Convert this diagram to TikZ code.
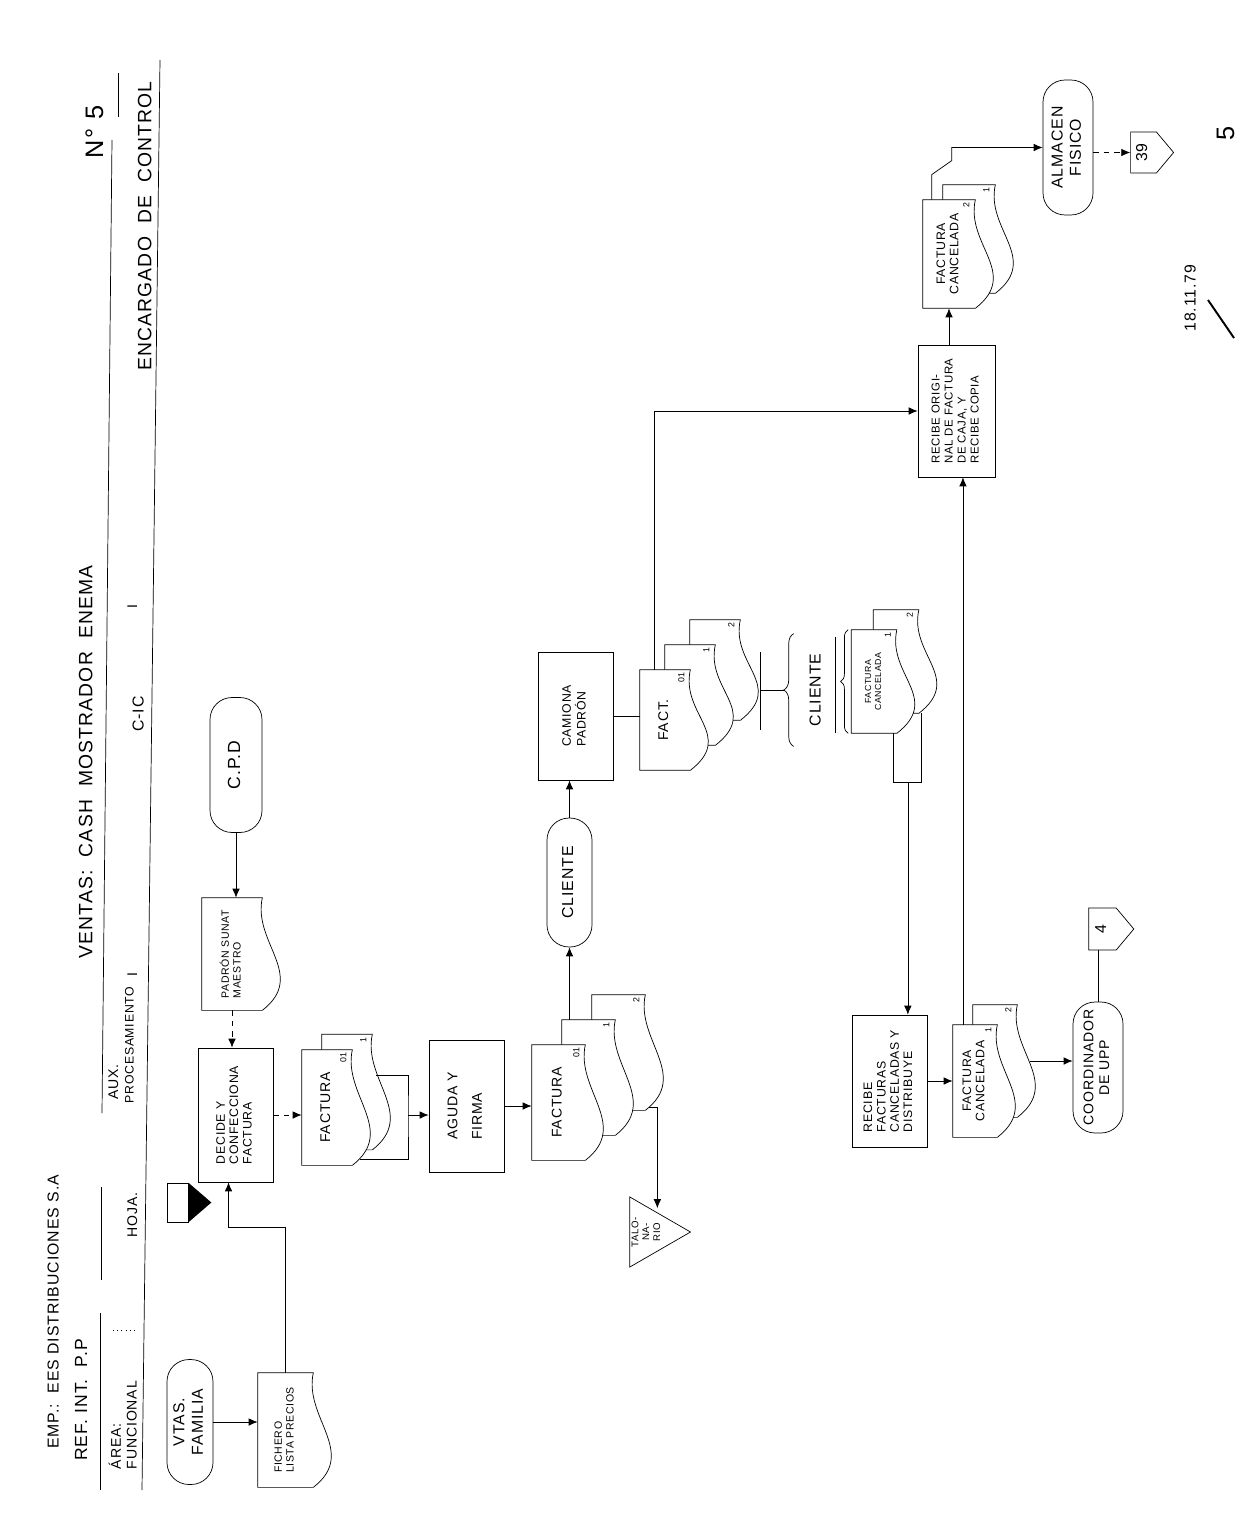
\documentclass[tikz,border=0pt]{standalone}
\usepackage{fontspec}
\setmainfont{Liberation Sans}[LetterSpace=6]
\usepackage{graphicx}
\usetikzlibrary{arrows.meta,positioning,calc,shapes.geometric,shapes.symbols,decorations.pathreplacing}

\pgfdeclarelayer{bg}
\pgfdeclarelayer{docback}
\pgfdeclarelayer{docfront}
\pgfsetlayers{bg,docback,docfront,main}

% vertical text, lines stacked to the right
\newcommand{\vt}[2][c]{\rotatebox{90}{\renewcommand{\arraystretch}{0.95}\begin{tabular}{@{}#1@{}}#2\end{tabular}}}
% document outline with the wavy edge on the right
\newcommand{\docline}[2][docfront]{%
  \begin{pgfonlayer}{#1}
    \draw[fill=white] (#2.north east) -- (#2.north west) -- (#2.south west) -- (#2.south east)
      .. controls +(45,-35) and +(-10,45) .. (#2.north east) -- cycle;
  \end{pgfonlayer}}

\begin{document}
\begin{tikzpicture}[x=0.02cm,y=-0.02cm,line width=1.3pt,
  box/.style={draw,fill=white,inner sep=2pt,font=\scriptsize},
  term/.style={draw,fill=white,rounded corners=0.44cm,inner sep=2pt,font=\small},
  docu/.style={inner sep=2pt,font=\scriptsize},
  lab/.style={font=\tiny,inner sep=1.5pt},
  conn/.style={draw,fill=white,signal,signal to=east,signal pointer angle=100,inner sep=1pt,font=\small},
  arr/.style={-{Latex[length=1.8mm,width=1.5mm]}},
  brc/.style={decorate,decoration={brace,amplitude=#1}},
  brc/.default=0.2cm]
\begin{pgfonlayer}{bg}
\fill[white] (0,0) rectangle (1255,1517);
\end{pgfonlayer}
\useasboundingbox (0,0) rectangle (1255,1517);

% header
\draw (100,1490) -- (100,1313);
\draw (101,1280) -- (101,1187);
\draw (102,1113) -- (112,140);
\draw (118,117) -- (118,73);
\draw (142,1490) -- (160,60);
\draw[dotted] (113,1330) -- (137,1330);
\node[font=\small] (emp) at (55,1312) {\vt{EMP.:\ \ EES DISTRIBUCIONES S.A}};
\node[font=\normalsize] (ref) at (83,1400) {\vt{REF. INT.\ \ P.P}};
\node[font=\fontsize{11}{13}\selectfont] (tit) at (88,762) {\vt{VENTAS:\ \ CASH\ \ MOSTRADOR\ \ ENEMA}};
\node[font=\Large] (num) at (97,132) {\vt{N° 5}};
\node[font=\footnotesize] (area) at (125,1425) {\vt[l]{ÁREA:\\FUNCIONAL}};
\node[font=\footnotesize] (hoja) at (134,1215) {\vt{HOJA.}};
\node[font=\footnotesize] (aux) at (115,1082) {\vt{AUX.}};
\node[font=\scriptsize] (proc) at (131,1045) {\vt{PROCESAMIENTO}};
\node[font=\footnotesize] (proci) at (134,975) {\vt{I}};
\node[font=\small] (cic) at (140,714) {\vt{C-IC}};
\node[font=\footnotesize] (cici) at (134,607) {\vt{I}};
\node[font=\fontsize{11}{13}\selectfont] (enc) at (147,226) {\vt{ENCARGADO\ \ DE\ \ CONTROL}};

% left column
\node[term,minimum width=0.92cm,minimum height=2.5cm] (vtas) at (190,1422) {\vt{VTAS.\\FAMILIA}};
\node[docu,minimum width=1.1cm,minimum height=2.28cm,font=\fontsize{6}{7}\selectfont] (fich) at (285.5,1430) {\vt[l]{FICHERO\\LISTA PRECIOS}};
\docline{fich}
\node[box,minimum width=1.5cm,minimum height=2.68cm] (dec) at (235.5,1115) {\vt[l]{DECIDE Y\\CONFECCIONA\\FACTURA}};
\node[draw,minimum width=0.42cm,minimum height=0.78cm,inner sep=0] (arc1) at (177.5,1202.5) {};
\fill (arc1.north east) -- ($(arc1.east)+(23,0)$) -- (arc1.south east) -- cycle;
\node[docu,minimum width=1.2cm,minimum height=2.24cm,font=\fontsize{6}{7}\selectfont] (padr) at (232,954) {\vt[l]{PADRÓN SUNAT\\MAESTRO}};
\docline{padr}
\node[term,minimum width=1.04cm,minimum height=2.7cm,font=\normalsize] (cpd) at (236,765) {\vt{C.P.D}};

\draw[arr] (vtas.east) -- (vtas.east -| fich.west);
\draw[arr] (fich.north) -- ++(0,-145) -| ([xshift=-0.14cm]dec.south);
\draw[arr] (cpd.south) -- (cpd.south |- padr.north);
\draw[arr,dashed] (padr.south) -- (padr.south |- dec.north);

% first invoice
\node[docu,minimum width=1.0cm,minimum height=2.3cm,label={[lab,anchor=north east]north east:\vt{1}}] (f1b) at (347,1092) {};
\docline[docback]{f1b}
\node[docu,minimum width=1.0cm,minimum height=2.3cm,font=\footnotesize,label={[lab,anchor=north east]north east:\vt{01}}] (f1a) at (327,1107.5) {\vt{FACTURA}};
\docline{f1a}
\draw[arr,dashed] (dec.east) -- (dec.east -| f1a.west);
\node[box,minimum width=1.5cm,minimum height=2.64cm,font=\footnotesize] (agu) at (466.5,1106) {\vt[l]{AGUDA Y\\[5pt]FIRMA}};
\coordinate (brk1) at (408,1115);
\draw (f1a.south east) ++(8,-6) -| (brk1) |- ($(f1b.east)+(4,-17)$);
\draw[arr] (brk1) -- (brk1 -| agu.west);

% signed invoice, three copies
\node[docu,minimum width=1.06cm,minimum height=2.3cm,label={[lab,anchor=north east]north east:\vt{2}}] (f2c) at (618.5,1052.5) {};
\docline[docback]{f2c}
\node[docu,minimum width=1.06cm,minimum height=2.3cm,label={[lab,anchor=north east]north east:\vt{1}}] (f2b) at (588.5,1077.5) {};
\docline[docback]{f2b}
\node[docu,minimum width=1.06cm,minimum height=2.3cm,font=\footnotesize,label={[lab,anchor=north east]north east:\vt{01}}] (f2a) at (558.5,1102.5) {\vt{FACTURA}};
\docline{f2a}
\draw[arr] (agu.east) -- (agu.east -| f2a.west);
\node[draw,regular polygon,regular polygon sides=3,shape border rotate=-90,minimum size=1.62cm,inner sep=0] (tal) at (650,1232) {};
\node[font=\fontsize{5.5}{6.5}\selectfont] (taltx) at (647,1232) {\vt{TALO-\\NA-\\RIO}};
\draw[arr] (f2c.south east) ++(4,-3) -- ++(8,0) coordinate (t2) -- (t2 |- tal.north);
\node[term,minimum width=0.9cm,minimum height=2.58cm] (cli) at (569.5,882.5) {\vt{CLIENTE}};
\draw[arr] (cli |- f2b.north) -- (cli.south);

% delivery
\node[box,minimum width=1.5cm,minimum height=2.56cm] (cam) at (575.5,716) {\vt[l]{CAMIONA\\PADRÓN}};
\draw[arr] (cli.north) -- (cli.north |- cam.south);
\node[docu,minimum width=1.0cm,minimum height=2.0cm,label={[lab,anchor=north east]north east:\vt{2}}] (f3c) at (715,670) {};
\docline[docback]{f3c}
\node[docu,minimum width=1.0cm,minimum height=2.0cm,label={[lab,anchor=north east]north east:\vt{1}}] (f3b) at (690,695) {};
\docline[docback]{f3b}
\node[docu,minimum width=1.0cm,minimum height=2.0cm,font=\footnotesize,label={[lab,anchor=north east]north east:\vt{01}}] (f3a) at (665,720) {\vt{FACT.}};
\docline{f3a}
\draw (cam.east) -- (cam.east -| f3a.west);
\coordinate (brk3) at (760,690);
\draw (brk3) ++(0,-38) -- ++(0,78);
\draw (brk3) -- ++(24,0);
\node[font=\small,minimum height=2.24cm,inner sep=1pt] (cltx) at (817,690) {\vt{CLIENTE}};
\draw[brc] ($(cltx.south west)+(-12,0)$) -- ($(cltx.north west)+(-12,0)$);
\draw ($(cltx.south east)+(7,-13)$) -- ($(cltx.north east)+(7,3)$);

% cancelled invoice from the client
\node[docu,minimum width=0.9cm,minimum height=2.06cm,label={[lab,anchor=north east]north east:\vt{2}}] (g1b) at (896,661.5) {};
\docline[docback]{g1b}
\node[docu,minimum width=0.9cm,minimum height=2.06cm,font=\tiny,label={[lab,anchor=north east]north east:\vt{1}}] (g1a) at (874,681.5) {\vt{FACTURA\\CANCELADA}};
\docline{g1a}
\draw[brc=0.15cm] ($(g1a.south west)+(-3,0)$) -- ($(g1a.north west)+(-3,0)$);
\draw (g1a.south east) ++(-4,0) -- ++(0,49) coordinate (j1) -| ($(g1b.south east)+(2,0)$);
\node[box,minimum width=1.5cm,minimum height=2.64cm] (rec1) at (889.5,1081) {\vt[l]{RECIBE\\FACTURAS\\CANCELADAS Y\\DISTRIBUYE}};
\draw[arr] (j1) ++(15,0) coordinate (j2) -- (j2 |- rec1.north);

\node[docu,minimum width=0.88cm,minimum height=2.24cm,label={[lab,anchor=north east]north east:\vt{2}}] (g2b) at (995,1061) {};
\docline[docback]{g2b}
\node[docu,minimum width=0.88cm,minimum height=2.24cm,label={[lab,anchor=north east]north east:\vt{1}}] (g2a) at (975,1081) {\vt{FACTURA\\CANCELADA}};
\docline{g2a}
\draw[arr] (rec1.east) -- (rec1.east -| g2a.west);
\node[term,minimum width=1.0cm,minimum height=2.62cm,font=\footnotesize] (coord) at (1098,1067.5) {\vt{COORDINADOR\\DE UPP}};
\draw[arr] ($(g2b.east)+(13,0)$) -- (coord.west |- g2b.east);
\node[conn,minimum width=0.9cm,minimum height=0.84cm] (con4) at (1102.5,929) {\vt{4}};
\draw (coord.north) -- (coord.north |- con4.south);

% original and copy
\node[box,minimum width=1.54cm,minimum height=2.64cm,font=\fontsize{6.5}{7.8}\selectfont] (rec2) at (956.5,411) {\vt[l]{RECIBE ORIGI-\\NAL DE FACTURA\\DE CAJA, Y\\RECIBE COPIA}};
\draw[arr] ($(f3a.north west)+(15,0)$) |- (rec2.west);
\draw[arr] ($(g2a.north west)!0.23!(g2a.north east)$) coordinate (u2) -- (u2 |- rec2.south);
\node[docu,minimum width=1.04cm,minimum height=2.16cm,label={[lab,anchor=north east]north east:\vt{1}}] (g3b) at (969,239) {};
\docline[docback]{g3b}
\node[docu,minimum width=1.04cm,minimum height=2.16cm,label={[lab,anchor=north east]north east:\vt{2}}] (g3a) at (949,254) {\vt{FACTURA\\CANCELADA}};
\docline{g3a}
\draw[arr] (rec2.north -| g3a) -- (g3a.south);
\node[term,minimum width=1.0cm,minimum height=2.7cm] (alm) at (1068,147.5) {\vt{ALMACEN\\FISICO}};
\draw[arr] (g3a.north west) ++(9,0) -- ++(0,-25) -- ++(20,-14) |- (alm.west);
\node[conn,minimum width=0.86cm,minimum height=0.82cm] (con39) at (1143.5,152.5) {\vt{39}};
\draw[arr,dashed] (alm.east |- con39.west) -- (con39.west);

% page number and date
\node[font=\Large] (pg) at (1228,133) {\vt{5}};
\node[font=\small] (fec) at (1192,298) {\vt{18.11.79}};
\draw[line width=1.1pt] (1208,300) -- (1234,338);
\end{tikzpicture}
\end{document}
